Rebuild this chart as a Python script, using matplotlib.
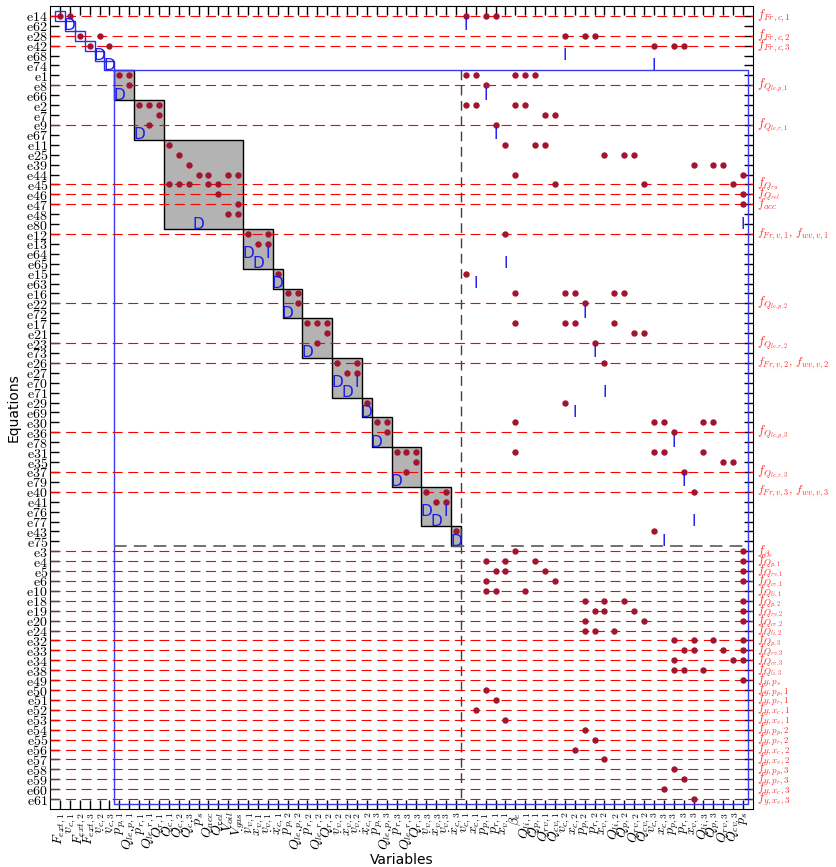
import matplotlib
matplotlib.use('Agg')
import matplotlib.pyplot as plt
from matplotlib.patches import Rectangle

plt.rcParams['mathtext.fontset'] = 'cm'

# equations, top to bottom
equations = ['e14', 'e62', 'e28', 'e42', 'e68', 'e74', 'e1', 'e8', 'e66', 'e2', 'e7', 'e9',
             'e67', 'e11', 'e25', 'e39', 'e44', 'e45', 'e46', 'e47', 'e48', 'e80', 'e12', 'e13',
             'e64', 'e65', 'e15', 'e63', 'e16', 'e22', 'e72', 'e17', 'e21', 'e23', 'e73', 'e26',
             'e27', 'e70', 'e71', 'e29', 'e69', 'e30', 'e36', 'e78', 'e31', 'e35', 'e37', 'e79',
             'e40', 'e41', 'e76', 'e77', 'e43', 'e75', 'e3', 'e4', 'e5', 'e6', 'e10', 'e18',
             'e19', 'e20', 'e24', 'e32', 'e33', 'e34', 'e38', 'e49', 'e50', 'e51', 'e52', 'e53',
             'e54', 'e55', 'e56', 'e57', 'e58', 'e59', 'e60', 'e61']

# variables, left to right
variables = [r'F_{ext,1}', r'\dot{v}_{c,1}', r'F_{ext,2}', r'F_{ext,3}', r'\dot{v}_{c,2}',
             r'\dot{v}_{c,3}', r'\dot{p}_{p,1}', r'Q_{le,p,1}', r'\dot{p}_{r,1}', r'Q_{le,r,1}',
             r'Q_{r,1}', r'Q_{c,1}', r'Q_{c,2}', r'Q_{c,3}', r'\dot{p}_s', r'Q_{acc}', r'Q_{rel}',
             r'V_{oil}', r'V_{gas}', r'\dot{v}_{v,1}', r'\dot{x}_{v,1}', r'v_{v,1}', r'\dot{x}_{c,1}',
             r'\dot{p}_{p,2}', r'Q_{le,p,2}', r'\dot{p}_{r,2}', r'Q_{le,r,2}', r'Q_{r,2}',
             r'\dot{v}_{v,2}', r'\dot{x}_{v,2}', r'v_{v,2}', r'\dot{x}_{c,2}', r'\dot{p}_{p,3}',
             r'Q_{le,p,3}', r'\dot{p}_{r,3}', r'Q_{le,r,3}', r'Q_{r,3}', r'\dot{v}_{v,3}',
             r'\dot{x}_{v,3}', r'v_{v,3}', r'\dot{x}_{c,3}',
             r'v_{c,1}', r'x_{c,1}', r'p_{p,1}', r'p_{r,1}', r'x_{v,1}', r'\beta_e', r'Q_{li,1}',
             r'Q_{p,1}', r'Q_{rv,1}', r'Q_{cv,1}', r'v_{c,2}', r'x_{c,2}', r'p_{p,2}', r'p_{r,2}',
             r'x_{v,2}', r'Q_{li,2}', r'Q_{p,2}', r'Q_{rv,2}', r'Q_{cv,2}', r'v_{c,3}', r'x_{c,3}',
             r'p_{p,3}', r'p_{r,3}', r'x_{v,3}', r'Q_{li,3}', r'Q_{p,3}', r'Q_{rv,3}', r'Q_{cv,3}',
             r'p_s']

# incidence (variable index per equation)
dots = {
    'e14': [0, 1, 41, 43, 44], 'e28': [2, 4, 51, 53, 54], 'e42': [3, 5, 60, 62, 63],
    'e1': [6, 7, 41, 42, 46, 47, 48], 'e8': [7, 43], 'e2': [8, 9, 10, 41, 42, 46, 47],
    'e7': [10, 49, 50], 'e9': [9, 44], 'e11': [11, 45, 48, 49], 'e25': [12, 55, 57, 58],
    'e39': [13, 64, 66, 67], 'e44': [14, 15, 17, 18, 46, 69],
    'e45': [11, 12, 13, 15, 16, 50, 59, 68], 'e46': [16, 69], 'e47': [18, 69], 'e48': [17, 18],
    'e12': [19, 21, 45], 'e13': [20, 21], 'e15': [22, 41],
    'e16': [23, 24, 46, 51, 52, 56, 57], 'e22': [24, 53], 'e17': [25, 26, 27, 46, 51, 52, 56],
    'e21': [27, 58, 59], 'e23': [26, 54], 'e26': [28, 30, 55], 'e27': [29, 30], 'e29': [31, 51],
    'e30': [32, 33, 46, 60, 61, 65, 66], 'e36': [33, 62], 'e31': [34, 35, 36, 46, 60, 61, 65],
    'e35': [36, 67, 68], 'e37': [35, 63], 'e40': [37, 39, 64], 'e41': [38, 39], 'e43': [40, 60],
    'e3': [46, 69], 'e4': [43, 45, 48, 69], 'e5': [44, 45, 49, 69], 'e6': [43, 50, 69],
    'e10': [43, 44, 47], 'e18': [53, 55, 57, 69], 'e19': [54, 55, 58, 69], 'e20': [53, 59, 69],
    'e24': [53, 54, 56], 'e32': [62, 64, 66, 69], 'e33': [63, 64, 67, 69], 'e34': [62, 68, 69],
    'e38': [62, 63, 65], 'e49': [69], 'e50': [43], 'e51': [44], 'e52': [42], 'e53': [45],
    'e54': [53], 'e55': [54], 'e56': [52], 'e57': [55], 'e58': [62], 'e59': [63],
    'e60': [61], 'e61': [64],
}
# differential constraints: derivative (D) and integrated (I) variable
d_marks = {'e62': 1, 'e68': 4, 'e74': 5, 'e66': 6, 'e67': 8, 'e80': 14, 'e64': 19, 'e65': 20,
           'e63': 22, 'e72': 23, 'e73': 25, 'e70': 28, 'e71': 29, 'e69': 31, 'e78': 32,
           'e79': 34, 'e76': 37, 'e77': 38, 'e75': 40}
i_marks = {'e62': 41, 'e68': 51, 'e74': 60, 'e66': 43, 'e67': 44, 'e80': 69, 'e64': 21,
           'e65': 45, 'e63': 42, 'e72': 53, 'e73': 54, 'e70': 30, 'e71': 55, 'e69': 52,
           'e78': 62, 'e79': 63, 'e76': 39, 'e77': 64, 'e75': 61}

# just-determined part (1x1 blocks) and equivalence classes of the overdetermined part
m0_blocks = [(['e14'], [0]), (['e62'], [1]), (['e28'], [2]), (['e42'], [3]),
             (['e68'], [4]), (['e74'], [5])]
eq_classes = [
    (['e1', 'e8', 'e66'], [6, 7]),
    (['e2', 'e7', 'e9', 'e67'], [8, 9, 10]),
    (['e11', 'e25', 'e39', 'e44', 'e45', 'e46', 'e47', 'e48', 'e80'], [11, 12, 13, 14, 15, 16, 17, 18]),
    (['e12', 'e13', 'e64', 'e65'], [19, 20, 21]),
    (['e15', 'e63'], [22]),
    (['e16', 'e22', 'e72'], [23, 24]),
    (['e17', 'e21', 'e23', 'e73'], [25, 26, 27]),
    (['e26', 'e27', 'e70', 'e71'], [28, 29, 30]),
    (['e29', 'e69'], [31]),
    (['e30', 'e36', 'e78'], [32, 33]),
    (['e31', 'e35', 'e37', 'e79'], [34, 35, 36]),
    (['e40', 'e41', 'e76', 'e77'], [37, 38, 39]),
    (['e43', 'e75'], [40]),
]

fault_eqs = ['e14', 'e28', 'e42', 'e8', 'e9', 'e45', 'e46', 'e47', 'e12', 'e22', 'e23', 'e26',
             'e36', 'e37', 'e40', 'e3', 'e4', 'e5', 'e6', 'e10', 'e18', 'e19', 'e20', 'e24',
             'e32', 'e33', 'e34', 'e38', 'e49', 'e50', 'e51', 'e52', 'e53', 'e54', 'e55', 'e56',
             'e57', 'e58', 'e59', 'e60', 'e61']
fault_names = [r'$f_{Fr,c,1}$', r'$f_{Fr,c,2}$', r'$f_{Fr,c,3}$', r'$f_{Q_{le,p,1}}$',
               r'$f_{Q_{le,r,1}}$', r'$f_{Q_{ru}}$', r'$f_{Q_{rel}}$', r'$f_{acc}$',
               r'$f_{Fr,v,1},\,f_{wv,v,1}$', r'$f_{Q_{le,p,2}}$', r'$f_{Q_{le,r,2}}$',
               r'$f_{Fr,v,2},\,f_{wv,v,2}$', r'$f_{Q_{le,p,3}}$', r'$f_{Q_{le,r,3}}$',
               r'$f_{Fr,v,3},\,f_{wv,v,3}$', r'$f_{\beta_e}$', r'$f_{Q_{p,1}}$',
               r'$f_{Q_{rv,1}}$', r'$f_{Q_{cv,1}}$', r'$f_{Q_{li,1}}$', r'$f_{Q_{p,2}}$',
               r'$f_{Q_{rv,2}}$', r'$f_{Q_{cv,2}}$', r'$f_{Q_{li,2}}$', r'$f_{Q_{p,3}}$',
               r'$f_{Q_{rv,3}}$', r'$f_{Q_{cv,3}}$', r'$f_{Q_{li,3}}$', r'$f_{y,p_s}$',
               r'$f_{y,p_p,1}$', r'$f_{y,p_r,1}$', r'$f_{y,x_c,1}$', r'$f_{y,x_v,1}$',
               r'$f_{y,p_p,2}$', r'$f_{y,p_r,2}$', r'$f_{y,x_c,2}$', r'$f_{y,x_v,2}$',
               r'$f_{y,p_p,3}$', r'$f_{y,p_r,3}$', r'$f_{y,x_c,3}$', r'$f_{y,x_v,3}$']

row = {e: i for i, e in enumerate(equations)}
ne, nv = len(equations), len(variables)

fig = plt.figure(figsize=(8.37, 8.67), dpi=100)
ax = fig.add_axes([50 / 837, 1 - 809 / 867, 703 / 837, 803 / 867])
ax.set_xlim(-1, nv)
ax.set_ylim(ne, -1)

# equivalence classes (gray)
for eqs, vs in eq_classes:
    r0, r1 = row[eqs[0]], row[eqs[-1]]
    ax.add_patch(Rectangle((vs[0] - 0.5, r0 - 0.5), len(vs), r1 - r0 + 1,
                           facecolor='#b3b3b3', edgecolor='k', lw=1, zorder=1))

# just-determined blocks (blue)
for eqs, vs in m0_blocks:
    ax.add_patch(Rectangle((vs[0] - 0.5, row[eqs[0]] - 0.5), len(vs), len(eqs),
                           facecolor='none', edgecolor='#2b2bf5', lw=1, zorder=2))

# overdetermined part box
pr0 = row[eq_classes[0][0][0]] - 0.5
pc0 = eq_classes[0][1][0] - 0.5
ax.plot([pc0, nv - 0.5, nv - 0.5, pc0, pc0], [pr0, pr0, ne - 0.5, ne - 0.5, pr0],
        color='#3a3af5', lw=1, zorder=2)
sep_r = row[eq_classes[-1][0][-1]] + 0.5
sep_c = eq_classes[-1][1][-1] + 0.5
ax.plot([sep_c, sep_c], [pr0, ne - 0.5], color='0.25', lw=1, ls=(0, (7, 4)), zorder=2)
ax.plot([pc0, nv - 0.5], [sep_r, sep_r], color='0.4', lw=1.3, ls=(0, (7, 4)), zorder=2)

# fault lines and names
for e, name in zip(fault_eqs, fault_names):
    ax.axhline(row[e], color='red', lw=0.8, ls=(0, (9, 5)), zorder=3)
    fs = 8.6 if ',\\,' in name else 9.2
    ax.text(nv + 0.45, row[e], name, color='#ff3030', fontsize=fs, ha='left', va='center',
            clip_on=False)

# incidence markers
for e, vs in dots.items():
    ax.plot(vs, [row[e]] * len(vs), 'o', color='#a3142e', ms=4.6, mew=0, ls='none', zorder=4)
for e, v in d_marks.items():
    ax.text(v, row[e], 'D', color='#1a1aee', fontsize=11, ha='center', va='center', zorder=5)
for e, v in i_marks.items():
    ax.text(v, row[e], 'I', color='#1a1aee', fontsize=11, ha='center', va='center', zorder=5)

ax.set_yticks(range(ne))
ax.set_yticklabels([r'$\mathrm{%s}$' % e for e in equations])
ax.set_xticks(range(nv))
ax.set_xticklabels(['$%s$' % v for v in variables], rotation=90)
ax.tick_params(direction='in', length=6.5, width=1, top=True, right=True, labelsize=10)
ax.tick_params(axis='x', pad=2)
ax.tick_params(axis='y', pad=1.5)

ax.set_xlabel('Variables', fontsize=10, labelpad=2)
ax.set_ylabel('Equations', fontsize=10, labelpad=4)

fig.savefig('out.png', dpi=100)
